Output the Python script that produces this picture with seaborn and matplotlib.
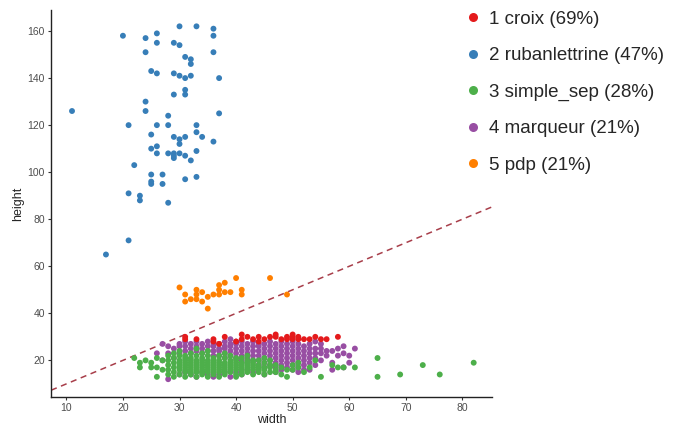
import matplotlib
matplotlib.use("Agg")
from matplotlib import pyplot as plt
import pandas as pd
import seaborn as sns

# categories (legend order) and colours
labels = ["1 croix (69%)", "2 rubanlettrine (47%)", "3 simple_sep (28%)",
          "4 marqueur (21%)", "5 pdp (21%)"]
colors = ["#E41A1C", "#377EB8", "#4DAF4A", "#984EA3", "#FF7F00"]

# 1 croix : {width: [heights]}
croix = {31: [29, 30], 33: [29], 36: [28, 29], 37: [27], 38: [30], 40: [28],
         41: [29, 31], 42: [30], 43: [29], 44: [28, 30], 45: [29], 46: [30],
         47: [30, 31], 48: [29], 49: [29, 30], 50: [29, 30, 31], 51: [29, 30],
         52: [29], 53: [29], 54: [30], 55: [29], 56: [29], 58: [30]}

# 2 rubanlettrine
ruban_w = [11, 20, 24, 26, 26, 24, 29, 30, 30, 33, 36, 36, 36, 31, 32, 32, 25, 26, 29,
           30, 31, 32, 37, 31, 31, 29, 24, 24, 28, 37, 21, 26, 28, 33, 25, 29, 30, 30,
           31, 33, 34, 36, 26, 25, 26, 28, 29, 29, 29, 30, 31, 33, 32, 22, 25, 27, 25,
           25, 27, 31, 33, 21, 23, 23, 28, 17, 21]
ruban_h = [126, 158, 157, 159, 155, 151, 155, 154, 162, 162, 161, 158, 151, 149, 148,
           146, 143, 142, 142, 141, 140, 141, 140, 135, 133, 133, 130, 126, 124, 125,
           120, 120, 120, 120, 116, 115, 114, 112, 115, 117, 115, 113, 111, 110, 108,
           108, 108, 107, 106, 108, 107, 109, 105, 103, 99, 99, 96, 95, 95, 97, 98, 91,
           90, 88, 87, 65, 71]

# 3 simple_sep
simple_sep = {22: [21], 23: [19, 17], 24: [20], 25: [19, 17], 26: [13, 17, 21],
              27: [16, 20], 28: [14, 16, 18, 20, 22], 29: [13, 15, 17, 19, 21, 23],
              30: [14, 16, 17, 18, 19, 20, 22, 24],
              31: [13, 15, 16, 17, 18, 19, 20, 21, 22],
              32: [14, 15, 16, 17, 18, 19, 20, 21, 23],
              33: [13, 15, 16, 17, 18, 19, 20, 22, 25],
              34: [14, 15, 16, 17, 18, 19, 20, 21, 23],
              35: [13, 15, 16, 17, 18, 19, 20, 22, 24],
              36: [14, 15, 16, 17, 18, 19, 20, 21],
              37: [13, 15, 16, 17, 18, 19, 20, 22],
              38: [14, 15, 16, 17, 18, 19, 21, 23],
              39: [15, 16, 17, 18, 19, 20, 22],
              40: [13, 14, 16, 17, 18, 19, 20, 21],
              41: [14, 15, 16, 17, 18, 19, 21],
              42: [15, 16, 17, 18, 19, 20, 22],
              43: [14, 16, 17, 18, 19, 20], 44: [15, 16, 17, 18, 20],
              45: [14, 16, 17, 19, 21], 46: [15, 17, 18, 20], 47: [15, 16, 18],
              48: [14, 17], 49: [13, 16], 50: [16, 18], 51: [17, 19], 52: [15],
              53: [17], 54: [20], 55: [13], 57: [18], 58: [17], 59: [17], 61: [17],
              65: [21, 13], 69: [14], 73: [18], 76: [14], 82: [19]}

# 4 marqueur
marqueur = {26: [23], 27: [27, 20], 28: [23, 12, 26], 29: [21, 25],
            30: [23, 26, 27, 14], 31: [24, 26, 28, 15], 32: [23, 25, 27, 14],
            33: [24, 26, 28, 13], 34: [23, 25, 27, 15], 35: [24, 26, 28, 14],
            36: [22, 24, 26, 27, 13], 37: [22, 24, 25, 27, 14],
            38: [21, 23, 25, 26, 28, 15], 39: [22, 24, 26, 27, 29, 13],
            40: [21, 23, 25, 27, 28, 15], 41: [20, 22, 24, 26, 28, 14],
            42: [19, 21, 23, 25, 27, 16], 43: [20, 22, 24, 26, 28, 15],
            44: [18, 20, 22, 24, 26, 27], 45: [17, 19, 21, 23, 25, 27, 14],
            46: [18, 20, 22, 24, 26, 28], 47: [17, 19, 21, 23, 25, 27, 15],
            48: [16, 18, 20, 22, 24, 26, 28], 49: [17, 19, 21, 23, 25, 27],
            50: [16, 18, 20, 22, 24, 26, 28], 51: [15, 17, 19, 21, 23, 25, 27],
            52: [16, 18, 20, 22, 24, 26], 53: [16, 19, 21, 23, 25, 27],
            54: [18, 21, 23, 25, 28], 55: [20, 23, 25, 27], 56: [22, 24],
            57: [16, 19, 24], 58: [25, 22], 59: [17, 23, 26], 60: [19, 22], 61: [25]}

# 5 pdp
pdp_w = [30, 31, 31, 32, 33, 33, 33, 34, 34, 35, 35, 36, 37, 37, 37, 38, 38, 39, 40,
         41, 41, 46, 49]
pdp_h = [51, 48, 45, 46, 50, 48, 46, 49, 45, 42, 47, 48, 50, 48, 52, 53, 49, 49, 55,
         50, 48, 55, 48]

line_intercept = 0
line_slope = 1


def columns_to_rows(cols, label):
    return [(w, h, label) for w, hs in cols.items() for h in hs]


rows = []
rows += columns_to_rows(marqueur, labels[3])
rows += columns_to_rows(simple_sep, labels[2])
rows += columns_to_rows(croix, labels[0])
rows += [(w, h, labels[1]) for w, h in zip(ruban_w, ruban_h)]
rows += [(w, h, labels[4]) for w, h in zip(pdp_w, pdp_h)]
df = pd.DataFrame(rows, columns=["width", "height", "type"])

sns.set_style("ticks")
plt.rcParams["font.family"] = ["Liberation Sans", "DejaVu Sans"]

fig = plt.figure(figsize=(6.81, 4.29), dpi=100)
ax = fig.add_axes([0.075, 0.075, 0.648, 0.902])

ax.axline((0, line_intercept), slope=line_slope, color="#A83E4A",
          linestyle=(0, (4, 3)), linewidth=1.1, zorder=1)

sns.scatterplot(data=df, x="width", y="height", hue="type", hue_order=labels,
                palette=dict(zip(labels, colors)), s=18, linewidth=0,
                ax=ax, zorder=2)

ax.set_xlim(7.3, 85.3)
ax.set_ylim(4.5, 169)
ax.set_xticks(range(10, 90, 10))
ax.set_yticks(range(20, 180, 20))
ax.tick_params(labelsize=7.5, labelcolor="#4d4d4d", length=2.5, width=0.8,
               color="#333333", pad=2)
ax.set_xlabel("width", fontsize=9, labelpad=1)
ax.set_ylabel("height", fontsize=9, labelpad=2)
sns.despine(ax=ax)
for side in ["left", "bottom"]:
    ax.spines[side].set_linewidth(1.0)
    ax.spines[side].set_color("#222222")

handles, lbls = ax.get_legend_handles_labels()
for h in handles:
    h.set_markersize(6.5)
ax.legend(handles, lbls, loc="upper left", bbox_to_anchor=(0.917, 1.017),
          frameon=False, fontsize=13.5, labelspacing=1.03, handletextpad=0.35,
          handlelength=1.0, borderaxespad=0)

fig.savefig("out.png", dpi=100)
